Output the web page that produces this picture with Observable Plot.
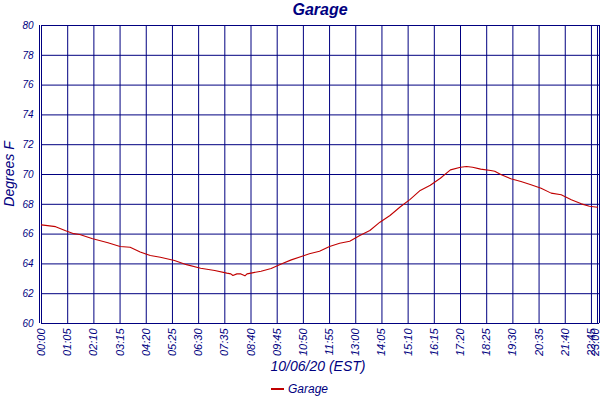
<!DOCTYPE html>
<html>
<head>
<meta charset="utf-8">
<script src="https://cdn.jsdelivr.net/npm/d3@7"></script>
<script src="https://cdn.jsdelivr.net/npm/@observablehq/plot@0.6"></script>
<style>
  html, body { margin: 0; padding: 0; background: #fff; }
  #wrap { position: relative; width: 600px; height: 400px; font-family: "Liberation Sans", Arial, sans-serif; font-style: italic; color: #000080; }
  #wrap svg { position: absolute; left: 0; top: 0; }
  .lbl { position: absolute; white-space: nowrap; line-height: 1; }
</style>
</head>
<body>
<div id="wrap">
  <div class="lbl" id="title" style="left:320px; top:2px; transform:translateX(-50%); font-size:16px; font-weight:bold;">Garage</div>
  <div class="lbl" id="ylab" style="left:9px; top:174px; transform:translate(-50%,-50%) rotate(-90deg); font-size:14px;">Degrees F</div>
  <div class="lbl" id="xlab" style="left:318px; top:359px; transform:translateX(-50%); font-size:14px;">10/06/20 (EST)</div>
  <div class="lbl" id="legend" style="left:271px; top:383px; font-size:12px; display:flex; align-items:center;">
    <span style="display:inline-block; width:13px; height:2px; background:#c00000; margin-right:4px;"></span>Garage
  </div>
</div>
<script>
const seriesName = "Garage";
const times = ["00:00","00:35","01:00","01:20","01:35","02:05","02:45","03:15","03:40","04:05","04:30","04:55","05:30","06:00","06:35","07:10","07:40","07:50","07:55","08:05","08:15","08:25","08:30","08:40","09:05","09:30","09:55","10:20","10:45","11:05","11:30","11:55","12:20","12:45","13:10","13:35","14:00","14:25","14:50","15:15","15:40","16:05","16:30","16:55","17:20","17:35","17:50","18:10","18:35","18:45","19:00","19:25","19:50","20:15","20:40","21:05","21:30","21:55","22:20","22:40","23:00"];
const temps = [66.62,66.50,66.22,66.03,65.97,65.70,65.42,65.17,65.12,64.80,64.56,64.45,64.23,63.95,63.71,63.56,63.38,63.33,63.22,63.33,63.33,63.20,63.33,63.38,63.51,63.69,64.00,64.27,64.50,64.68,64.85,65.17,65.39,65.52,65.91,66.24,66.80,67.25,67.82,68.33,68.93,69.28,69.75,70.31,70.49,70.54,70.49,70.36,70.27,70.22,70.00,69.71,69.53,69.31,69.08,68.75,68.64,68.30,68.03,67.87,67.80];
const xTickLabels = ["00:00","01:05","02:10","03:15","04:20","05:25","06:30","07:35","08:40","09:45","10:50","11:55","13:00","14:05","15:10","16:15","17:20","18:25","19:30","20:35","21:40","22:45","23:00"];
const yTicks = [60,62,64,66,68,70,72,74,76,78,80];

const toMin = s => { const [h, m] = s.split(":").map(Number); return h * 60 + m; };
const fmt = m => String(Math.floor(m / 60)).padStart(2, "0") + ":" + String(m % 60).padStart(2, "0");
const data = times.map((t, i) => ({ t: toMin(t), v: temps[i] }));
const xTicks = xTickLabels.map(toMin);
const lastTick = xTicks[xTicks.length - 1];
const xEnd = 1385;
const navy = "#000080";

const chart = Plot.plot({
  width: 600,
  height: 400,
  marginLeft: 41,
  marginRight: 1,
  marginTop: 25,
  marginBottom: 77,
  style: { fontFamily: "Liberation Sans, Arial, sans-serif", fontStyle: "italic", fontSize: "11px", color: navy, background: "transparent" },
  x: { domain: [0, xEnd] },
  y: { domain: [60, 80] },
  marks: [
    Plot.ruleX(xTicks, { stroke: navy, strokeWidth: 1 }),
    Plot.ruleY(yTicks, { stroke: navy, strokeWidth: 1 }),
    Plot.ruleX([0], { stroke: navy, strokeWidth: 1, dx: -2 }),
    Plot.ruleX([xEnd], { stroke: navy, strokeWidth: 1 }),
    Plot.line(data, { x: "t", y: "v", stroke: "#c00000", strokeWidth: 1.1 }),
    Plot.axisY({ ticks: yTicks, tickSize: 0, tickPadding: 8, fontSize: 10, label: null }),
    Plot.axisX({ ticks: xTicks.slice(0, -1), tickFormat: fmt, tickRotate: -90, tickSize: 0, tickPadding: 5, fontSize: 11, label: null }),
    Plot.axisX({ ticks: [lastTick], tickFormat: fmt, tickRotate: -90, tickSize: 0, tickPadding: 5, fontSize: 11, label: null, dx: -2 })
  ]
});
document.getElementById("wrap").prepend(chart);
</script>
</body>
</html>
